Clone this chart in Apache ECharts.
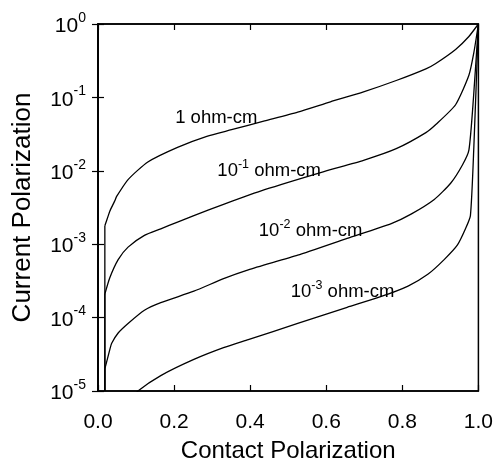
<!DOCTYPE html>
<html>
<head>
<meta charset="utf-8">
<script src="https://cdn.jsdelivr.net/npm/echarts@6/dist/echarts.min.js"></script>
<style>
html,body{margin:0;padding:0;background:#fff;}
#c{width:496px;height:468px;}
</style>
</head>
<body>
<div id="c"></div>
<script>
// Data (x = contact polarization, y = current polarization)
// Each curve: vertical drop near x = 0.018 down to the axis floor, then the main branch.
const floor1 = [[0.018,1e-5],[0.018,0.00178]];
const curve1 = [[0.018,0.00178],[0.027,0.00245],[0.031,0.00282],[0.044,0.00389],[0.049,0.00447],[0.079,0.00759],[0.131,0.0132],[0.209,0.0209],[0.286,0.0295],[0.351,0.0363],[0.438,0.0479],[0.525,0.0631],[0.611,0.0871],[0.698,0.119],[0.784,0.170],[0.862,0.245],[0.888,0.290],[0.940,0.450],[0.975,0.676],[1.0,1.0]];
const floor2 = [[0.018,1e-5],[0.018,0.000209]];
const curve2 = [[0.018,0.000209],[0.031,0.000349],[0.053,0.000617],[0.079,0.000912],[0.122,0.00132],[0.165,0.00162],[0.209,0.00200],[0.252,0.00245],[0.330,0.00349],[0.438,0.00553],[0.594,0.00977],[0.698,0.0139],[0.784,0.0200],[0.862,0.0331],[0.888,0.0427],[0.940,0.0794],[0.975,0.200],[0.988,0.407],[1.0,1.0]];
const floor3 = [[0.018,1e-5],[0.018,0.0000200]];
const curve3 = [[0.018,0.0000200],[0.031,0.0000366],[0.036,0.0000447],[0.053,0.0000617],[0.079,0.0000832],[0.122,0.000126],[0.165,0.000160],[0.252,0.000229],[0.330,0.000339],[0.395,0.000447],[0.525,0.000708],[0.655,0.00120],[0.771,0.00191],[0.823,0.00257],[0.884,0.00407],[0.927,0.00676],[0.958,0.0120],[0.975,0.0191],[0.987,0.0977],[1.0,1.0]];
const curve4 = [[0.090,0.0000079],[0.105,0.0000100],[0.165,0.0000162],[0.252,0.0000269],[0.330,0.0000389],[0.395,0.0000501],[0.525,0.0000832],[0.655,0.000138],[0.741,0.000191],[0.815,0.000269],[0.867,0.000389],[0.910,0.000617],[0.945,0.000977],[0.966,0.00162],[0.979,0.00245],[0.988,0.0209],[1.0,1.0]];

// Curve annotations
const labelBase = ['1', '10', '10', '10'];
const labelExp = ['', '-1', '-2', '-3'];
const labelUnit = 'ohm-cm';
const labelX = [0.311, 0.450, 0.559, 0.643];
const labelY = [0.0558, 0.0106, 0.0016, 0.000235];

// Axis tick labels
const xTickLabels = ['0.0', '0.2', '0.4', '0.6', '0.8', '1.0'];
const yTickExps = ['0', '-1', '-2', '-3', '-4', '-5'];

const xTitle = 'Contact Polarization';
const yTitle = 'Current Polarization';

const FONT = '"Liberation Sans", Arial, sans-serif';
const chart = echarts.init(document.getElementById('c'), null, {renderer: 'canvas'});

const lineStyle = {color: '#000', width: 1.3};
function mkLine(d, smooth) {
  return {type: 'line', data: d, showSymbol: false, symbol: 'none', clip: true,
    smooth: smooth ? 0.2 : false,
    lineStyle: lineStyle, animation: false, silent: true};
}

const labelData = labelX.map((x, i) => ({value: [x, labelY[i]], idx: i}));

chart.setOption({
  animation: false,
  backgroundColor: '#fff',
  textStyle: {fontFamily: FONT, color: '#000'},
  grid: {left: 98, right: 13, top: 24, bottom: 69, show: true, borderColor: '#000', borderWidth: 1.5, backgroundColor: 'transparent'},
  xAxis: [{
    type: 'value', min: 0, max: 1, interval: 0.2, position: 'bottom',
    axisLine: {show: true, lineStyle: {color: '#000', width: 1.5}},
    axisTick: {show: true, inside: true, length: 6, lineStyle: {color: '#000', width: 1.2}},
    splitLine: {show: false},
    axisLabel: {margin: 21, fontSize: 21, color: '#000', fontFamily: FONT,
      formatter: function (v) { return xTickLabels[Math.round(v / 0.2)]; }},
    name: xTitle, nameLocation: 'middle', nameGap: 48,
    nameTextStyle: {fontSize: 24, color: '#000', fontFamily: FONT}
  }, {
    type: 'value', min: 0, max: 1, interval: 0.2, position: 'top',
    axisLine: {show: true, lineStyle: {color: '#000', width: 1.5}},
    axisTick: {show: true, inside: true, length: 6, lineStyle: {color: '#000', width: 1.2}},
    splitLine: {show: false}, axisLabel: {show: false}
  }],
  yAxis: [{
    type: 'log', logBase: 10, min: 1e-5, max: 1, position: 'left',
    axisLine: {show: true, lineStyle: {color: '#000', width: 1.5}},
    axisTick: {show: true, inside: true, length: 6, lineStyle: {color: '#000', width: 1.2}},
    minorTick: {show: false},
    splitLine: {show: false},
    axisLabel: {margin: 12, color: '#000', fontFamily: FONT,
      formatter: function (v) {
        const e = Math.round(Math.log10(v));
        return '{b|10}{s|' + yTickExps[-e] + '}';
      },
      rich: {
        b: {fontSize: 21, fontFamily: FONT, color: '#000', verticalAlign: 'bottom', lineHeight: 26},
        s: {fontSize: 14, fontFamily: FONT, color: '#000', verticalAlign: 'top', lineHeight: 26}
      }
    },
    name: yTitle, nameLocation: 'middle', nameGap: 62, nameRotate: 90,
    nameTextStyle: {fontSize: 26, color: '#000', fontFamily: FONT}
  }, {
    type: 'log', logBase: 10, min: 1e-5, max: 1, position: 'right',
    axisLine: {show: true, lineStyle: {color: '#000', width: 1.5}},
    axisTick: {show: true, inside: true, length: 6, lineStyle: {color: '#000', width: 1.2}},
    splitLine: {show: false}, axisLabel: {show: false}
  }],
  series: [
    mkLine(floor1, false), mkLine(curve1, true),
    mkLine(floor2, false), mkLine(curve2, true),
    mkLine(floor3, false), mkLine(curve3, true),
    mkLine(curve4, true),
    {
      type: 'scatter', data: labelData, symbolSize: 0, silent: true, animation: false,
      itemStyle: {opacity: 1},
      label: {
        show: true, position: 'inside', color: '#000', fontFamily: FONT, opacity: 1,
        formatter: function (p) {
          const i = p.data.idx;
          if (labelExp[i] === '') return '{b|' + labelBase[i] + ' ' + labelUnit + '}';
          return '{b|' + labelBase[i] + '}{s|' + labelExp[i] + '}{b| ' + labelUnit + '}';
        },
        rich: {
          b: {fontSize: 18.5, fontFamily: FONT, color: '#000', verticalAlign: 'bottom', lineHeight: 22},
          s: {fontSize: 12.5, fontFamily: FONT, color: '#000', verticalAlign: 'top', lineHeight: 22}
        }
      }
    }
  ]
});
</script>
</body>
</html>
